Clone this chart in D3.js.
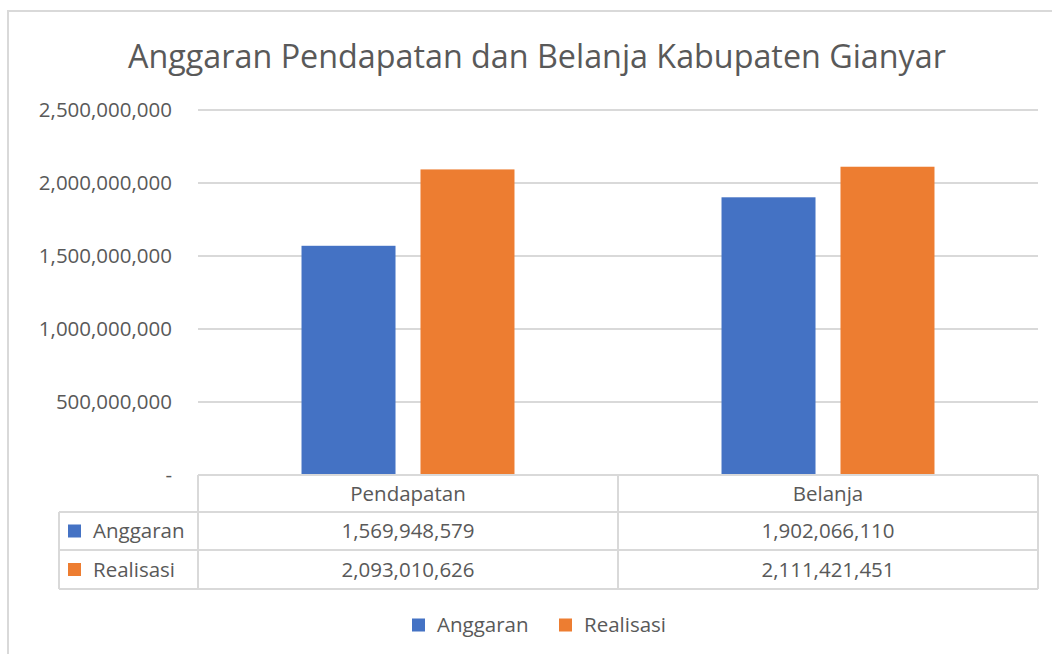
<!DOCTYPE html>
<html>
<head>
<meta charset="utf-8">
<script src="https://cdn.jsdelivr.net/npm/d3@7"></script>
<style>
  body { margin: 0; background: #fff; }
  text { font-family: "Open Sans", "Noto Sans", sans-serif; fill: #595959; }
</style>
</head>
<body>
<svg id="chart" width="1052" height="654"></svg>
<script>
var categories = ["Pendapatan", "Belanja"]
var seriesNames = ["Anggaran", "Realisasi"]
var anggaran = [1569948579, 1902066110]
var realisasi = [2093010626, 2111421451]
var tickValues = [0, 500000000, 1000000000, 1500000000, 2000000000, 2500000000]

var seriesValues = [anggaran, realisasi]
var color = d3.scaleOrdinal().domain(seriesNames).range(["#4472C4", "#ED7D31"])

var svg = d3.select("#chart")
var plotLeft = 198, plotRight = 1038, plotTop = 110, plotBottom = 475
var gridColor = "#D9D9D9"
var fs = 20.5

// chart border (Excel chart area, right edge cut off)
svg.append("path")
  .attr("d", "M8,654 L8,11 L1052,11")
  .attr("fill", "none")
  .attr("stroke", gridColor)
  .attr("stroke-width", 2)

svg.append("text")
  .attr("x", 537).attr("y", 68)
  .attr("text-anchor", "middle")
  .attr("font-size", 32.3)
  .text("Anggaran Pendapatan dan Belanja Kabupaten Gianyar")

var y = d3.scaleLinear().domain([0, 2500000000]).range([plotBottom, plotTop])
var x0 = d3.scaleBand().domain(categories).range([plotLeft, plotRight])
var x1 = d3.scaleBand().domain(seriesNames).range([0, x0.bandwidth()])
  .paddingInner(0.21).paddingOuter(0.87)

var fmt = d3.format(",")

// gridlines
svg.append("g")
  .selectAll("line")
  .data(tickValues.filter(function(d) { return d > 0 }))
  .enter().append("line")
  .attr("x1", plotLeft).attr("x2", plotRight)
  .attr("y1", function(d) { return y(d) }).attr("y2", function(d) { return y(d) })
  .attr("stroke", gridColor).attr("stroke-width", 2)

// y tick labels
svg.append("g")
  .selectAll("text")
  .data(tickValues)
  .enter().append("text")
  .attr("x", 172)
  .attr("y", function(d) { return y(d) })
  .attr("dy", "0.35em")
  .attr("text-anchor", "end")
  .attr("font-size", fs)
  .text(function(d) { return d === 0 ? "-" : fmt(d) })

// bars
var rows = []
categories.forEach(function(c, i) {
  seriesNames.forEach(function(s, j) {
    rows.push({ cat: c, series: s, value: seriesValues[j][i] })
  })
})

svg.append("g")
  .selectAll("rect")
  .data(rows)
  .enter().append("rect")
  .attr("x", function(d) { return x0(d.cat) + x1(d.series) })
  .attr("y", function(d) { return y(d.value) })
  .attr("width", x1.bandwidth())
  .attr("height", function(d) { return y(0) - y(d.value) })
  .style("fill", function(d) { return color(d.series) })

// data table
var tableLeft = 59
var rowY = [475, 512, 550, 589]
var table = svg.append("g").attr("stroke", gridColor).attr("stroke-width", 2)
table.append("line").attr("x1", plotLeft).attr("x2", plotRight).attr("y1", rowY[0]).attr("y2", rowY[0])
rowY.slice(1).forEach(function(ry) {
  table.append("line").attr("x1", tableLeft).attr("x2", plotRight).attr("y1", ry).attr("y2", ry)
})
table.append("line").attr("x1", tableLeft).attr("x2", tableLeft).attr("y1", rowY[1]).attr("y2", rowY[3])
categories.forEach(function(c) {
  table.append("line").attr("x1", x0(c)).attr("x2", x0(c)).attr("y1", rowY[0]).attr("y2", rowY[3])
})
table.append("line").attr("x1", plotRight).attr("x2", plotRight).attr("y1", rowY[0]).attr("y2", rowY[3])

svg.append("g")
  .selectAll("text")
  .data(categories)
  .enter().append("text")
  .attr("x", function(d) { return x0(d) + x0.bandwidth() / 2 })
  .attr("y", (rowY[0] + rowY[1]) / 2)
  .attr("dy", "0.35em")
  .attr("text-anchor", "middle")
  .attr("font-size", fs)
  .text(function(d) { return d })

seriesNames.forEach(function(s, j) {
  var cy = (rowY[j + 1] + rowY[j + 2]) / 2
  svg.append("rect")
    .attr("x", 68).attr("y", cy - 6.5).attr("width", 13).attr("height", 13)
    .style("fill", color(s))
  svg.append("text")
    .attr("x", 93).attr("y", cy).attr("dy", "0.35em")
    .attr("font-size", fs)
    .text(s)
  svg.append("g")
    .selectAll("text")
    .data(categories)
    .enter().append("text")
    .attr("x", function(d) { return x0(d) + x0.bandwidth() / 2 })
    .attr("y", cy).attr("dy", "0.35em")
    .attr("text-anchor", "middle")
    .attr("font-size", fs)
    .text(function(d, i) { return fmt(seriesValues[j][i]) })
})

// legend
var legendX = [412, 559]
var legend = svg.append("g")
  .selectAll("g")
  .data(seriesNames)
  .enter().append("g")
  .attr("transform", function(d, i) { return "translate(" + legendX[i] + ",625)" })
legend.append("rect")
  .attr("x", 0).attr("y", -6.5).attr("width", 13).attr("height", 13)
  .style("fill", function(d) { return color(d) })
legend.append("text")
  .attr("x", 25).attr("dy", "0.35em")
  .attr("font-size", fs)
  .text(function(d) { return d })
</script>
</body>
</html>
